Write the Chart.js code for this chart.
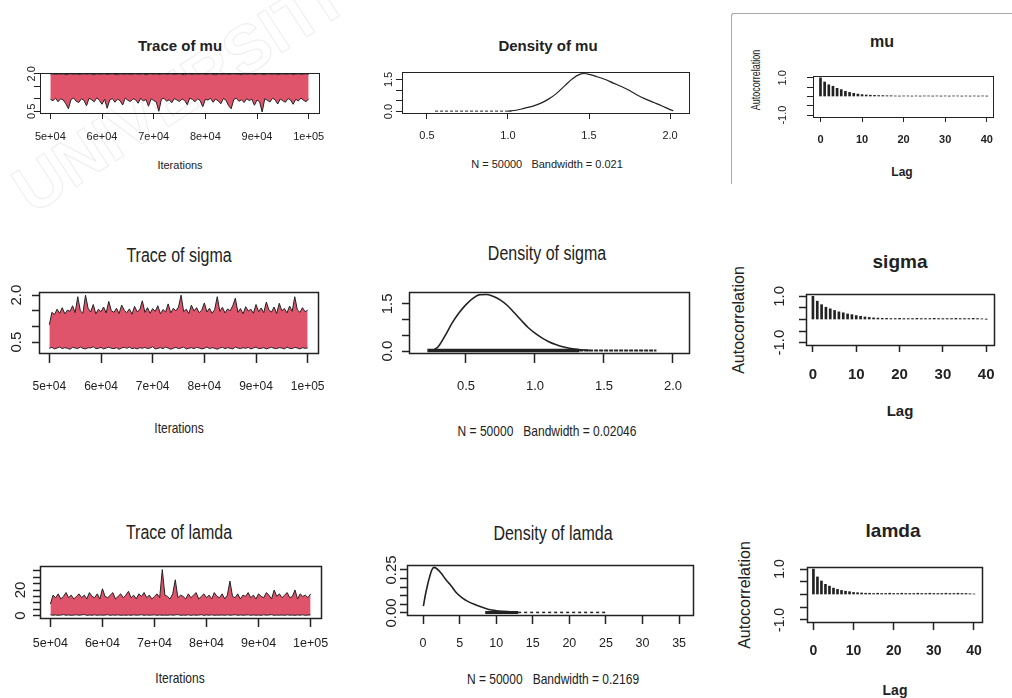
<!DOCTYPE html>
<html>
<head>
<meta charset="utf-8">
<script src="https://cdn.jsdelivr.net/npm/chart.js@4.4.1/dist/chart.umd.min.js"></script>
<style>
  html, body { margin: 0; padding: 0; background: #fff; }
  #stage { position: relative; width: 1012px; height: 698px; overflow: hidden; background: #fff; }
  .t { position: absolute; white-space: pre; color: #222; transform: translate(-50%, -50%); line-height: 1; }
  canvas { position: absolute; }
</style>
</head>
<body>
<div id="stage"></div>
<script>
// ---- data ----
const iters = [
  50000, 50500, 51000, 51500, 52000, 52500, 53000, 53500, 54000, 54500,
  55000, 55500, 56000, 56500, 57000, 57500, 58000, 58500, 59000, 59500,
  60000, 60500, 61000, 61500, 62000, 62500, 63000, 63500, 64000, 64500,
  65000, 65500, 66000, 66500, 67000, 67500, 68000, 68500, 69000, 69500,
  70000, 70500, 71000, 71500, 72000, 72500, 73000, 73500, 74000, 74500,
  75000, 75500, 76000, 76500, 77000, 77500, 78000, 78500, 79000, 79500,
  80000, 80500, 81000, 81500, 82000, 82500, 83000, 83500, 84000, 84500,
  85000, 85500, 86000, 86500, 87000, 87500, 88000, 88500, 89000, 89500,
  90000, 90500, 91000, 91500, 92000, 92500, 93000, 93500, 94000, 94500,
  95000, 95500, 96000, 96500, 97000, 97500, 98000, 98500, 99000, 99500,
  100000
];

// trace envelopes (upper / lower edge of the chain in each bin)
const muHi = [
  1.99, 2.00, 1.97, 2.00, 1.98, 2.00, 1.96, 1.99, 2.00, 1.98,
  2.00, 1.97, 1.99, 2.00, 1.98, 2.00, 1.99, 1.96, 2.00, 1.98,
  1.99, 2.00, 1.97, 1.99, 2.00, 1.98, 1.96, 2.00, 1.99, 1.98,
  2.00, 1.97, 1.99, 2.00, 1.98, 1.99, 2.00, 1.96, 1.99, 2.00,
  1.98, 2.00, 1.97, 1.99, 2.00, 1.98, 1.99, 2.00, 1.97, 1.99,
  2.00, 1.98, 1.96, 2.00, 1.99, 1.97, 2.00, 1.98, 1.99, 2.00,
  1.97, 1.99, 2.00, 1.98, 1.96, 2.00, 1.99, 1.98, 2.00, 1.97,
  1.99, 2.00, 1.98, 1.99, 1.96, 2.00, 1.98, 1.99, 2.00, 1.97,
  1.99, 2.00, 1.98, 1.97, 2.00, 1.99, 1.98, 2.00, 1.96, 1.99,
  2.00, 1.98, 1.99, 2.00, 1.97, 1.99, 2.00, 1.98, 1.99, 2.00,
  1.98
];
const muLo = [
  0.98, 0.92, 1.02, 0.88, 1.00, 0.95, 0.80, 0.60, 0.97, 1.03,
  0.90, 0.85, 1.00, 0.94, 0.72, 1.02, 0.96, 0.88, 1.04, 0.93,
  0.78, 0.98, 0.62, 0.95, 1.01, 0.86, 0.99, 0.92, 0.75, 1.03,
  0.94, 0.89, 1.00, 0.96, 0.82, 1.02, 0.91, 0.97, 0.70, 1.00,
  0.93, 0.87, 0.50, 0.98, 1.02, 0.90, 0.96, 0.84, 1.01, 0.95,
  0.89, 0.99, 0.93, 0.76, 1.03, 0.97, 0.88, 1.00, 0.92, 0.68,
  0.98, 0.95, 1.02, 0.86, 0.99, 0.91, 0.80, 1.01, 0.94, 0.72,
  0.60, 0.97, 1.02, 0.90, 0.96, 0.85, 1.00, 0.93, 0.98, 0.74,
  0.95, 0.88, 0.47, 1.00, 0.94, 0.87, 1.02, 0.96, 0.79, 0.99,
  0.92, 0.86, 1.01, 0.95, 0.78, 0.98, 0.91, 1.03, 0.94, 0.88,
  1.00
];
const sigmaHi = [
  1.05, 1.45, 1.38, 1.55, 1.42, 1.60, 1.40, 1.52, 1.48, 1.66,
  1.44, 1.95, 1.50, 1.42, 2.00, 1.58, 1.46, 1.70, 1.40, 1.55,
  1.47, 1.62, 1.43, 1.80, 1.50, 1.45, 1.58, 1.41, 1.68, 1.52,
  1.44, 1.56, 1.39, 1.64, 1.47, 1.53, 1.82, 1.45, 1.60, 1.42,
  1.57, 1.48, 1.66, 1.40, 1.54, 1.46, 1.72, 1.43, 1.58, 1.50,
  1.62, 2.00, 1.47, 1.55, 1.41, 1.68, 1.49, 1.60, 1.44, 1.52,
  1.75, 1.46, 1.58, 1.42, 1.54, 1.95, 1.48, 1.61, 1.43, 1.56,
  1.50, 1.66, 1.90, 1.45, 1.57, 1.40, 1.63, 1.49, 1.55, 1.42,
  1.70, 1.47, 1.59, 1.44, 1.78, 1.52, 1.46, 1.62, 1.41, 1.74,
  1.50, 1.57, 1.43, 1.65, 1.48, 1.95, 1.53, 1.45, 1.60, 1.47,
  1.52
];
const sigmaLo = [
  0.30, 0.33, 0.28, 0.31, 0.34, 0.29, 0.32, 0.30, 0.27, 0.33,
  0.31, 0.29, 0.34, 0.30, 0.28, 0.32, 0.31, 0.35, 0.29, 0.30,
  0.33, 0.28, 0.31, 0.34, 0.30, 0.29, 0.32, 0.27, 0.31, 0.33,
  0.30, 0.34, 0.29, 0.31, 0.28, 0.32, 0.30, 0.33, 0.29, 0.31,
  0.35, 0.28, 0.30, 0.32, 0.29, 0.34, 0.31, 0.27, 0.30, 0.33,
  0.29, 0.31, 0.34, 0.28, 0.30, 0.32, 0.29, 0.33, 0.31, 0.28,
  0.30, 0.34, 0.29, 0.32, 0.30, 0.27, 0.31, 0.33, 0.29, 0.32,
  0.30, 0.28, 0.34, 0.31, 0.29, 0.32, 0.30, 0.33, 0.28, 0.31,
  0.34, 0.29, 0.30, 0.32, 0.28, 0.31, 0.33, 0.30, 0.29, 0.32,
  0.31, 0.28, 0.34, 0.30, 0.29, 0.33, 0.31, 0.28, 0.32, 0.30,
  0.31
];
const lamdaHi = [
  9, 16, 14, 17, 13, 15, 18, 14, 16, 13,
  15, 17, 14, 16, 13, 18, 15, 14, 17, 13,
  21, 15, 14, 16, 18, 13, 15, 17, 14, 16,
  19, 14, 16, 13, 17, 15, 18, 14, 16, 13,
  15, 17, 14, 36, 16, 15, 13, 17, 28, 14,
  16, 15, 13, 17, 14, 16, 18, 13, 15, 17,
  14, 16, 13, 18, 15, 14, 17, 13, 16, 27,
  15, 14, 17, 13, 16, 15, 18, 14, 16, 13,
  17, 15, 14, 18, 16, 13, 20, 15, 17, 14,
  16, 18, 14, 15, 20, 13, 17, 15, 16, 14,
  17
];
const lamdaLo = [
  0.6, 0.3, 0.5, 0.2, 0.4, 0.7, 0.3, 0.5, 0.2, 0.4,
  0.6, 0.3, 0.5, 0.8, 0.2, 0.4, 0.3, 0.6, 0.2, 0.5,
  0.3, 0.4, 0.7, 0.2, 0.5, 0.3, 0.6, 0.2, 0.4, 0.3,
  0.5, 0.2, 0.6, 0.3, 0.4, 0.7, 0.2, 0.5, 0.3, 0.4,
  0.6, 0.2, 0.5, 0.3, 0.4, 0.2, 0.6, 0.3, 0.5, 0.8,
  0.2, 0.4, 0.3, 0.6, 0.2, 0.5, 0.3, 0.4, 0.7, 0.2,
  0.5, 0.3, 0.6, 0.2, 0.4, 0.3, 0.5, 0.2, 0.6, 0.3,
  0.4, 0.7, 0.2, 0.5, 0.3, 0.4, 0.6, 0.2, 0.5, 0.3,
  0.4, 0.2, 0.6, 0.3, 0.5, 0.7, 0.2, 0.4, 0.3, 0.5,
  0.2, 0.6, 0.3, 0.4, 0.2, 0.5, 0.3, 0.6, 0.2, 0.4,
  0.5
];

// densities
const muDensX = [1.00, 1.05, 1.10, 1.15, 1.20, 1.25, 1.30, 1.35, 1.40, 1.45, 1.47, 1.50, 1.55, 1.60, 1.65, 1.70, 1.75, 1.80, 1.85, 1.90, 1.95, 2.00, 2.02];
const muDensY = [0.02, 0.06, 0.15, 0.24, 0.38, 0.58, 0.85, 1.20, 1.55, 1.76, 1.78, 1.74, 1.63, 1.50, 1.33, 1.17, 0.98, 0.76, 0.58, 0.42, 0.26, 0.09, 0.04];
const muObsX = [0.55, 1.02];
const sigmaDensX = [0.27, 0.30, 0.35, 0.40, 0.45, 0.50, 0.55, 0.60, 0.65, 0.70, 0.75, 0.80, 0.85, 0.90, 0.95, 1.00, 1.05, 1.10, 1.15, 1.20, 1.25, 1.30, 1.40];
const sigmaDensY = [0.05, 0.15, 0.50, 0.90, 1.22, 1.48, 1.68, 1.79, 1.80, 1.74, 1.62, 1.45, 1.22, 0.98, 0.75, 0.57, 0.42, 0.30, 0.21, 0.14, 0.09, 0.06, 0.02];
const sigmaObsDense = [0.22, 1.32];
const sigmaObsSparse = [1.32, 1.88];
const lamdaDensX = [0.05, 0.3, 0.6, 0.9, 1.2, 1.5, 1.8, 2.2, 2.6, 3.0, 3.5, 4.0, 4.5, 5.0, 5.5, 6.0, 7.0, 8.0, 9.0, 10, 11, 12, 13];
const lamdaDensY = [0.04, 0.10, 0.16, 0.21, 0.25, 0.265, 0.26, 0.245, 0.225, 0.20, 0.175, 0.15, 0.12, 0.10, 0.083, 0.07, 0.05, 0.034, 0.02, 0.013, 0.009, 0.006, 0.004];
const lamdaObsDense = [8.5, 13];
const lamdaObsSparse = [13, 25];

// autocorrelations
const lags = [0, 1, 2, 3, 4, 5, 6, 7, 8, 9, 10, 11, 12, 13, 14, 15, 16, 17, 18, 19, 20,
  21, 22, 23, 24, 25, 26, 27, 28, 29, 30, 31, 32, 33, 34, 35, 36, 37, 38, 39, 40];
const muAcf = [1.00, 0.78, 0.63, 0.55, 0.44, 0.37, 0.28, 0.22, 0.17, 0.13, 0.10, 0.08, 0.07, 0.06, 0.05, 0.05, 0.04, 0.04,
  0.03, 0.02, 0.03, 0.03, 0.02, 0.03, 0.02, 0.03, 0.03, 0.02, 0.03, 0.02, 0.03, 0.02, 0.03, 0.03, 0.02, 0.03, 0.02, 0.03, 0.02, 0.03, 0.02];
const sigmaAcf = [1.00, 0.79, 0.64, 0.53, 0.46, 0.39, 0.33, 0.29, 0.24, 0.21, 0.17, 0.14, 0.11, 0.09, 0.07, 0.06, 0.05,
  0.05, 0.04, 0.04, 0.05, 0.04, 0.04, 0.04, 0.05, 0.04, 0.04, 0.04, 0.05, 0.04, 0.04, 0.04, 0.04, 0.05, 0.04, 0.04, 0.04, 0.05, 0.04, 0.03, 0.01];
const lamdaAcf = [1.00, 0.69, 0.53, 0.40, 0.33, 0.25, 0.20, 0.16, 0.13, 0.11, 0.08, 0.07, 0.06, 0.05,
  0.05, 0.04, 0.05, 0.04, 0.04, 0.05, 0.04, 0.04, 0.05, 0.04, 0.04, 0.04, 0.05, 0.04, 0.04, 0.05, 0.04, 0.04, 0.04, 0.05, 0.04, 0.04, 0.05, 0.04, 0.04, 0.03, 0.02];

// tick values and labels
const traceXTicks = [50000, 60000, 70000, 80000, 90000, 100000];
const traceXLabels = ['5e+04', '6e+04', '7e+04', '8e+04', '9e+04', '1e+05'];
const halfTicks = [0.5, 1.0, 1.5, 2.0];
const halfTickLabels = ['0.5', '1.0', '1.5', '2.0'];
const traceYLabels = ['0.5', '', '', '2.0'];
const densYTicks = [0, 0.5, 1.0, 1.5];
const densYLabels = ['0.0', '', '', '1.5'];
const lamdaTraceYTicks = [0, 5, 10, 15, 20, 25, 30, 35];
const lamdaTraceYLabels = ['0', '', '', '', '20', '', '', ''];
const lamdaDensXTicks = [0, 5, 10, 15, 20, 25, 30, 35];
const lamdaDensXLabels = ['0', '5', '10', '15', '20', '25', '30', '35'];
const lamdaDensYTicks = [0, 0.05, 0.10, 0.15, 0.20, 0.25];
const lamdaDensYLabels = ['0.00', '', '', '', '', '0.25'];
const acfXTicks = [0, 10, 20, 30, 40];
const acfXLabels = ['0', '10', '20', '30', '40'];
const acfYTicks = [-1, -0.5, 0, 0.5, 1];
const acfYLabels = ['-1.0', '', '', '', '1.0'];

// ---- drawing ----
const ink = '#222';
const red = '#DF536B';
const REG = '"Liberation Sans", Arial, sans-serif';
const stage = document.getElementById('stage');
const meas = document.createElement('canvas').getContext('2d');

function textWidth(f, s) {
  meas.font = `${f.weight || 'normal'} ${f.size}px ${f.family}`;
  return meas.measureText(s).width;
}

// sx < 1 squeezes the text sideways like the squashed screenshots of rows 2 and 3
function text(str, x, y, size, weight, opt) {
  const o = opt || {};
  const d = document.createElement('div');
  d.className = 't';
  d.textContent = str;
  d.style.left = x + 'px';
  d.style.top = y + 'px';
  d.style.font = `${weight || 'normal'} ${size}px ${REG}`;
  let tf = 'translate(-50%, -50%)';
  if (o.rot) tf += ' rotate(-90deg)';
  if (o.sx) tf += ` scaleX(${o.sx})`;
  d.style.transform = tf;
  stage.appendChild(d);
}

// R style box round the plot region
const rBox = {
  id: 'rBox',
  afterDatasetsDraw(chart, args, o) {
    const { ctx, chartArea: a } = chart;
    ctx.save();
    ctx.strokeStyle = ink;
    ctx.lineWidth = o.lw;
    ctx.strokeRect(a.left + 0.5, a.top + 0.5, a.right - a.left, a.bottom - a.top);
    ctx.restore();
  }
};

function axis(ax, horizontal, size, pad) {
  return {
    type: 'linear',
    min: ax.min,
    max: ax.max,
    offset: false,
    afterBuildTicks: s => { s.ticks = ax.ticks.map(v => ({ value: v })); },
    afterFit: s => {
      if (horizontal) { s.height = size; s.paddingLeft = 0; s.paddingRight = 0; }
      else { s.width = size; s.paddingTop = 0; s.paddingBottom = 0; }
    },
    grid: { display: true, offset: false, drawOnChartArea: false, drawTicks: true, tickLength: ax.tl, tickColor: ink, tickWidth: ax.lw || 1 },
    border: { display: false },
    ticks: {
      autoSkip: false,
      color: ink,
      font: ax.font,
      padding: pad,
      minRotation: horizontal ? 0 : 90,
      maxRotation: horizontal ? 0 : 90,
      crossAlign: horizontal ? 'near' : 'center',
      callback: (v, i) => ax.labels[i]
    }
  };
}

function panel(p) {
  const [L, T, R, B] = p.box;
  const yW = 50, padT = 18, padR = 26;
  const xf = p.x.font, yf = p.y.font;
  const xPad = p.x.labelY - B - p.x.tl - 0.6 * xf.size;
  const xH = Math.ceil(p.x.tl + xPad + 1.2 * xf.size + 4);
  const widest = Math.max(...p.y.labels.map(s => textWidth(yf, s)));
  const yPad = (L - p.y.labelX) - p.y.tl - widest / 2;
  const W = yW + (R - L) + padR;
  const H = padT + (B - T) + xH;
  const cv = document.createElement('canvas');
  cv.width = W;
  cv.height = H;
  cv.style.left = (L - yW) + 'px';
  cv.style.top = (T - padT) + 'px';
  cv.style.width = W + 'px';
  cv.style.height = H + 'px';
  stage.appendChild(cv);
  p.x.lw = p.lw;
  p.y.lw = p.lw;
  new Chart(cv, {
    type: p.type,
    data: { labels: p.labels, datasets: p.datasets },
    options: {
      responsive: false,
      animation: false,
      events: [],
      layout: { padding: { left: 0, top: padT, right: padR, bottom: 0 } },
      plugins: { legend: { display: false }, tooltip: { enabled: false }, rBox: { lw: p.lw } },
      scales: { x: axis(p.x, true, xH, xPad), y: axis(p.y, false, yW, yPad) }
    },
    plugins: [rBox]
  });
}

function traceSets(hi, lo) {
  return [
    { data: hi, borderColor: ink, borderWidth: 1, pointRadius: 0, fill: false },
    { data: lo, borderColor: ink, borderWidth: 1, pointRadius: 0, fill: '-1', backgroundColor: red }
  ];
}

function pts(xs, ys) { return xs.map((x, i) => ({ x, y: ys[i] })); }
function flat(xs, y) { return xs.map(x => ({ x, y })); }

function curve(xs, ys, w) {
  return { data: pts(xs, ys), borderColor: ink, borderWidth: w, pointRadius: 0, fill: false, cubicInterpolationMode: 'monotone' };
}
function obs(xs, y, w, dash) {
  return { data: flat(xs, y), borderColor: ink, borderWidth: w, pointRadius: 0, fill: false, borderDash: dash || [] };
}
function acfSet(vals) {
  return [{ data: vals, backgroundColor: ink, borderWidth: 0, barThickness: 2 }];
}

// watermark
const wm = document.createElement('div');
wm.className = 't';
wm.textContent = 'UNIVERSITI';
wm.style.cssText += 'left:175px;top:95px;font:bold 66px ' + REG + ';color:transparent;-webkit-text-stroke:1px #ededed;transform:translate(-50%,-50%) rotate(-33deg);';
stage.appendChild(wm);

// frame of the cut-out top right panel
const fr = document.createElement('div');
fr.style.cssText = 'position:absolute;left:731px;top:13px;width:290px;height:170px;border-top:1px solid #a8a8a8;border-left:1px solid #a8a8a8;border-top-left-radius:3px;';
stage.appendChild(fr);

const f11 = { size: 11, family: REG };
const y15 = { size: 15, family: REG };
const x13 = { size: 13, family: REG };
const x12 = { size: 12.5, family: REG };
const SQ = { sx: 0.8 };

// row 1
panel({
  box: [40, 73, 319, 113], lw: 1, type: 'line', labels: iters,
  x: { min: 48000, max: 102000, ticks: traceXTicks, labels: traceXLabels, font: f11, tl: 6, labelY: 136.5 },
  y: { min: 0.43, max: 2.03, ticks: halfTicks, labels: traceYLabels, font: f11, tl: 6, labelX: 31.5 },
  datasets: traceSets(muHi, muLo)
});
text('Trace of mu', 180, 45, 15, 'bold');
text('Iterations', 180, 165, 11);

panel({
  box: [402, 72, 689, 113], lw: 1, type: 'line',
  x: { min: 0.346, max: 2.117, ticks: halfTicks, labels: halfTickLabels, font: f11, tl: 6, labelY: 136 },
  y: { min: -0.07, max: 1.85, ticks: densYTicks, labels: densYLabels, font: f11, tl: 6, labelX: 389 },
  datasets: [curve(muDensX, muDensY, 1.2), obs(muObsX, 0.018, 1, [3, 2])]
});
text('Density of mu', 548, 45, 15, 'bold');
text('N = 50000   Bandwidth = 0.021', 547, 164, 11);

panel({
  box: [813, 76, 993, 117], lw: 1, type: 'bar', labels: lags,
  x: { min: -1.8, max: 41.5, ticks: acfXTicks, labels: acfXLabels, font: { size: 11, family: REG, weight: 'bold' }, tl: 5, labelY: 140 },
  y: { min: -1.1, max: 1.1, ticks: acfYTicks, labels: acfYLabels, font: f11, tl: 6, labelX: 783 },
  datasets: acfSet(muAcf)
});
text('mu', 882, 42, 16, 'bold');
text('Lag', 902, 172, 12, 'bold');
text('Autocorrelation', 756, 80, 12, 'normal', { rot: true, sx: 0.75 });

// row 2
panel({
  box: [39, 292, 318, 353], lw: 1.5, type: 'line', labels: iters,
  x: { min: 48000, max: 102000, ticks: traceXTicks, labels: traceXLabels, font: { size: 12, family: REG }, tl: 10, labelY: 386.5 },
  y: { min: 0.15, max: 2.1, ticks: halfTicks, labels: traceYLabels, font: y15, tl: 7, labelX: 17 },
  datasets: traceSets(sigmaHi, sigmaLo)
});
text('Trace of sigma', 179, 255, 20, 'normal', SQ);
text('Iterations', 179, 427, 15, 'normal', SQ);

panel({
  box: [409, 292, 689, 353], lw: 1.5, type: 'line',
  x: { min: 0.087, max: 2.116, ticks: halfTicks, labels: halfTickLabels, font: x13, tl: 10, labelY: 386 },
  y: { min: -0.06, max: 1.88, ticks: densYTicks, labels: densYLabels, font: y15, tl: 7, labelX: 388 },
  datasets: [curve(sigmaDensX, sigmaDensY, 1.6), obs(sigmaObsDense, 0.018, 3.5), obs(sigmaObsSparse, 0.018, 2, [4, 1])]
});
text('Density of sigma', 547, 253, 20, 'normal', SQ);
text('N = 50000   Bandwidth = 0.02046', 547, 430, 15, 'normal', SQ);

panel({
  box: [806, 294, 994, 345], lw: 1.5, type: 'bar', labels: lags,
  x: { min: -1.6, max: 41.8, ticks: acfXTicks, labels: acfXLabels, font: { size: 15, family: REG, weight: 'bold' }, tl: 7, labelY: 375 },
  y: { min: -1.1, max: 1.1, ticks: acfYTicks, labels: acfYLabels, font: y15, tl: 7, labelX: 780 },
  datasets: acfSet(sigmaAcf)
});
text('sigma', 900, 262, 19, 'bold');
text('Lag', 900, 410, 15, 'bold');
text('Autocorrelation', 739, 320, 16, 'normal', { rot: true });

// row 3
panel({
  box: [40, 566, 321, 618], lw: 1.5, type: 'line', labels: iters,
  x: { min: 48000, max: 102000, ticks: traceXTicks, labels: traceXLabels, font: x12, tl: 9, labelY: 643.5 },
  y: { min: -1.9, max: 38.8, ticks: lamdaTraceYTicks, labels: lamdaTraceYLabels, font: y15, tl: 7, labelX: 21 },
  datasets: traceSets(lamdaHi, lamdaLo)
});
text('Trace of lamda', 179, 532, 20, 'normal', SQ);
text('Iterations', 180, 677, 15, 'normal', SQ);

panel({
  box: [407, 565, 693, 615], lw: 1.5, type: 'line',
  x: { min: -2.19, max: 36.9, ticks: lamdaDensXTicks, labels: lamdaDensXLabels, font: x12, tl: 9, labelY: 643.5 },
  y: { min: -0.012, max: 0.279, ticks: lamdaDensYTicks, labels: lamdaDensYLabels, font: y15, tl: 7, labelX: 392 },
  datasets: [curve(lamdaDensX, lamdaDensY, 1.6), obs(lamdaObsDense, 0.003, 3), obs(lamdaObsSparse, 0.003, 1.5, [3, 3])]
});
text('Density of lamda', 553, 533, 20, 'normal', SQ);
text('N = 50000   Bandwidth = 0.2169', 553, 678, 15, 'normal', SQ);

panel({
  box: [807, 567, 982, 622], lw: 1.5, type: 'bar', labels: lags,
  x: { min: -1.6, max: 42, ticks: acfXTicks, labels: acfXLabels, font: { size: 14, family: REG, weight: 'bold' }, tl: 8, labelY: 651.5 },
  y: { min: -1.08, max: 1.08, ticks: acfYTicks, labels: acfYLabels, font: { size: 14, family: REG }, tl: 7, labelX: 780 },
  datasets: acfSet(lamdaAcf)
});
text('lamda', 893, 531, 19, 'bold');
text('Lag', 895, 690, 14, 'bold');
text('Autocorrelation', 745, 595, 16, 'normal', { rot: true });
</script>
</body>
</html>
